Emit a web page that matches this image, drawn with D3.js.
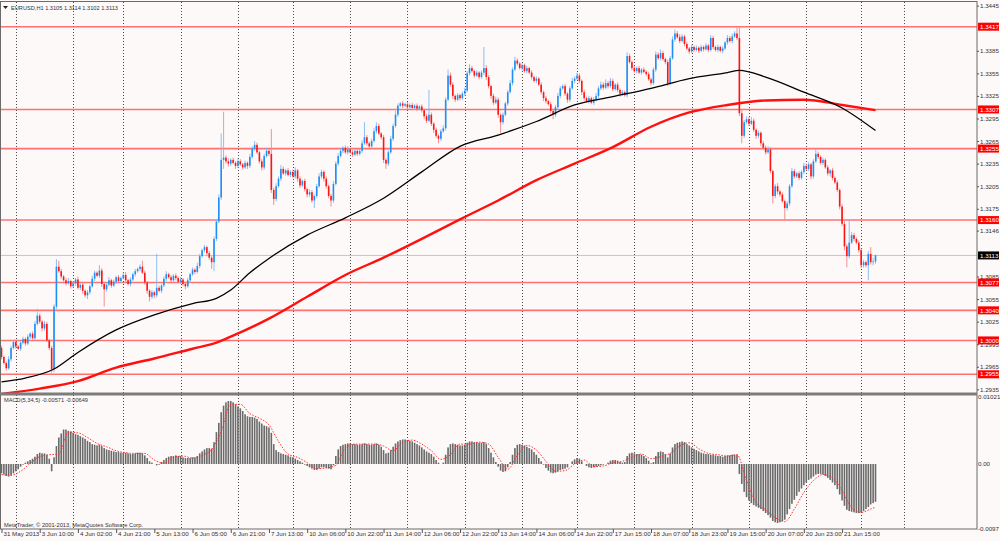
<!DOCTYPE html>
<html>
<head>
<meta charset="utf-8">
<script src="https://cdnjs.cloudflare.com/ajax/libs/d3/7.8.5/d3.min.js"></script>
<style>
  body { margin: 0; background: #fdf9f8; overflow: hidden; }
  text { font-family: "Liberation Sans", Arial, sans-serif; font-size: 6.2px; fill: #333; }
</style>
</head>
<body>
<svg id="chart"></svg>
<script>
// EURUSD H1, prices in 1/10000 (13113 = 1.3113), open of each bar = previous close
const firstOpen = 12990;
const closes = [
  12978,12970,12963,12975,12990,12998,12992,12989,12997,13002,
  12996,13005,13009,13003,13022,13033,13025,13016,13022,13000,
  12990,12962,13045,13098,13092,13085,13080,13076,13079,13072,
  13076,13081,13070,13074,13066,13060,13064,13072,13082,13090,
  13086,13093,13075,13068,13074,13080,13073,13078,13084,13079,
  13083,13087,13080,13075,13081,13088,13092,13095,13098,13090,
  13077,13066,13058,13064,13060,13070,13066,13073,13082,13088,
  13084,13080,13086,13083,13078,13081,13075,13072,13080,13088,
  13094,13091,13099,13112,13120,13124,13116,13110,13104,13135,
  13158,13190,13240,13243,13238,13235,13240,13236,13232,13238,
  13234,13230,13236,13232,13244,13255,13260,13250,13238,13230,
  13245,13252,13248,13200,13188,13205,13215,13228,13222,13226,
  13220,13224,13218,13226,13215,13206,13212,13201,13194,13197,
  13186,13192,13205,13218,13224,13215,13205,13192,13186,13208,
  13235,13245,13252,13256,13250,13254,13250,13247,13252,13248,
  13252,13262,13270,13262,13258,13265,13278,13285,13275,13270,
  13240,13235,13250,13268,13285,13300,13312,13315,13312,13314,
  13310,13313,13309,13312,13308,13311,13306,13298,13292,13300,
  13288,13280,13272,13268,13278,13282,13320,13352,13340,13325,
  13320,13326,13322,13328,13332,13355,13362,13358,13352,13356,
  13350,13356,13362,13350,13338,13325,13316,13320,13300,13290,
  13300,13315,13330,13342,13360,13372,13368,13362,13366,13358,
  13362,13356,13350,13345,13348,13340,13330,13322,13318,13314,
  13305,13300,13310,13325,13335,13338,13328,13320,13335,13345,
  13348,13352,13345,13330,13322,13318,13322,13316,13320,13325,
  13335,13340,13336,13342,13338,13345,13334,13340,13333,13328,
  13330,13326,13378,13370,13362,13358,13362,13356,13360,13357,
  13354,13347,13342,13360,13380,13375,13382,13374,13370,13342,
  13375,13400,13408,13403,13398,13404,13394,13388,13384,13390,
  13386,13389,13385,13390,13387,13392,13386,13402,13390,13386,
  13390,13385,13388,13396,13402,13398,13404,13408,13402,13302,
  13272,13290,13294,13288,13292,13280,13272,13276,13262,13256,
  13250,13254,13225,13192,13205,13198,13194,13185,13176,13182,
  13205,13225,13218,13222,13216,13224,13232,13228,13234,13218,
  13238,13248,13244,13236,13240,13230,13222,13226,13216,13210,
  13200,13178,13155,13125,13112,13130,13140,13135,13130,13120,
  13100,13104,13100,13115,13104,13105,13113
];
// wick length above / below the body, in pips
const wickUp = [
  3,2,2,4,3,2,3,2,2,3, 2,3,2,3,4,9,3,2,4,3, 2,3,3,10,8,3,2,3,4,2, 3,2,4,2,3,2,3,2,4,3,
  2,7,3,2,3,4,2,3,2,3, 2,3,4,2,3,2,3,2,3,8, 3,2,2,3,2,45,3,2,3,4, 2,3,2,3,2,3,2,3,3,2,
  3,2,4,3,2,3,2,3,2,3, 3,4,35,61,3,4,2,3,2,4, 3,2,3,2,4,3,5,3,2,3, 3,4,3,33,3,4,3,5,3,2,
  3,2,3,4,2,3,2,3,2,4, 3,2,3,4,3,2,3,2,3,4, 3,4,3,2,3,4,2,3,2,3, 3,4,20,3,2,3,4,5,3,2,
  3,2,3,4,3,5,3,2,3,2, 3,2,3,2,3,2,3,2,3,33, 3,2,3,2,3,4,3,8,4,3, 2,3,2,3,4,3,5,3,2,3,
  2,3,28,4,3,2,3,4,3,2, 3,2,3,4,3,5,3,2,3,2, 3,2,3,2,3,2,3,2,3,2, 3,2,3,4,3,2,3,2,3,4,
  3,4,3,2,3,2,3,2,3,4, 3,4,3,5,3,4,3,2,3,2, 3,2,5,3,2,3,2,3,2,3, 2,3,2,3,4,3,5,3,2,3,
  3,4,5,3,4,3,2,3,2,3, 2,3,2,3,2,3,2,4,3,2, 3,2,3,2,4,3,4,3,8,14, 4,3,4,3,5,3,2,3,2,3,
  3,4,3,2,3,4,2,3,2,3, 3,4,3,2,3,2,4,3,3,2, 3,7,3,2,3,2,3,2,3,2, 3,2,3,4,3,30,4,3,2,3,
  2,3,2,4,9,5,1
];
const wickDn = [
  3,2,3,2,3,2,3,2,3,2, 3,2,3,2,3,2,3,4,3,2, 3,5,4,3,2,3,2,3,2,3, 2,3,2,3,4,3,5,3,2,3,
  2,3,4,23,3,2,3,2,3,2, 3,2,3,2,3,2,3,2,3,2, 3,4,6,3,4,3,2,3,2,3, 2,3,2,3,2,3,3,4,2,3,
  2,3,2,3,2,3,4,3,9,12, 3,2,3,12,3,4,3,2,4,3, 2,3,2,4,3,2,3,2,3,4, 3,2,3,4,8,3,2,3,2,3,
  2,3,2,3,4,3,2,3,4,3, 3,10,3,2,3,4,3,3,8,3, 2,3,2,3,2,3,2,3,2,3, 2,3,2,3,4,3,2,3,2,3,
  4,7,3,2,3,2,3,2,3,2, 3,2,3,2,3,2,3,4,3,2, 3,4,3,6,3,2,3,2,3,4, 3,2,3,2,3,2,3,2,3,2,
  3,2,3,4,3,4,3,2,4,14, 3,2,3,2,3,2,3,2,3,2, 3,2,3,2,3,2,3,4,3,2, 3,6,3,2,3,2,3,4,3,2,
  3,2,3,4,3,2,3,2,3,2, 3,2,3,2,3,2,3,2,3,4, 3,2,3,2,3,2,3,2,3,2, 3,2,3,2,3,2,3,2,3,4,
  3,2,3,2,3,2,3,2,3,2, 3,2,3,2,3,2,3,2,3,2, 3,2,3,2,3,2,3,2,3,4, 10,3,2,3,2,3,4,3,4,3,
  3,2,3,10,3,4,3,2,16,3, 3,2,3,2,3,2,3,2,3,4, 3,2,3,2,3,2,3,4,3,2, 3,4,3,5,15,3,2,3,2,3,
  4,3,3,20,3,4,3
];

// moving averages: [bar, price]
const maBlack = [[0,12945],[10,12950],[22,12962],[32,12984],[48,13014],[64,13034],[80,13049],[90,13056],
  [96,13067],[104,13090],[112,13109],[128,13140],[144,13163],[160,13189],[176,13224],[192,13258],[208,13273],
  [224,13291],[240,13313],[256,13324],[272,13335],[288,13348],[304,13356],[309,13359],[320,13350],
  [336,13330],[352,13309],[366,13279]];
const maRed = [[0,12929],[16,12936],[32,12946],[48,12964],[64,12976],[80,12989],[90,12997],[96,13005],
  [112,13029],[128,13058],[144,13087],[160,13110],[176,13135],[192,13161],[208,13186],[224,13213],
  [240,13235],[256,13257],[272,13284],[288,13303],[304,13313],[320,13319],[336,13320],[352,13313],[366,13306]];

// MACD(5,34,5) main histogram per bar, in 1/10000
const macdMain = [
  -14,-16,-18,-19,-17,-14,-11,-8,-4,-1, 2,4,6,8,11,15,17,16,16,14, 8,-11,10,27,40,46,52,52,50,49,
  47,45,44,42,40,38,35,33,30,29, 28,29,27,24,22,21,20,19,18,18, 17,17,17,16,15,15,16,17,17,16,
  13,9,4,2,0,-2,-1,3,6,9, 11,12,12,13,12,12,10,9,9,9, 10,10,12,16,19,22,24,24,23,33,
  48,62,78,88,93,95,95,93,90,87, 84,80,75,72,71,71,70,68,64,61, 58,57,55,47,30,21,18,16,15,14,
  13,11,10,8,6,4,2,-1,-3,-5, -7,-9,-9,-7,-5,-5,-6,-7,-8,-2, 12,22,27,29,30,31,31,30,30,29,
  29,30,31,30,29,29,30,31,29,26, 21,16,17,21,26,31,34,36,37,37, 36,35,34,32,30,28,25,22,19,17,
  15,11,6,2,0,2,14,25,30,31, 30,29,28,28,29,32,34,34,33,33, 32,32,33,30,24,17,10,3,-4,-10,
  -12,-11,-5,3,14,24,29,30,29,28, 26,24,22,18,14,9,4,-1,-6,-10, -13,-14,-13,-11,-9,-8,-7,-5,0,4,
  7,9,8,4,0,-3,-5,-6,-5,-4, -3,-2,-1,0,2,5,6,6,5,3, 2,3,12,16,17,16,15,15,14,12,
  9,5,1,3,12,18,19,18,15,10, 16,25,30,32,33,34,33,30,28,25, 23,21,19,17,16,15,15,14,14,13,
  12,12,11,12,13,13,14,14,14,-15, -30,-42,-50,-55,-59,-62,-64,-66,-68,-71, -74,-77,-81,-86,-88,-89,-88,-86,-84,-76,
  -68,-60,-54,-48,-42,-37,-32,-28,-24,-22, -19,-16,-15,-15,-16,-18,-21,-24,-28,-32, -38,-46,-55,-63,-69,-71,-72,-73,-74,-74,
  -73,-71,-68,-65,-61,-59,-57
];
// signal line, read every 4th bar (last point is the final bar)
const signalVals = [
  -16,-17,-11,1,11,14,15,48,47,40,31,26,20,17,16,16,6,1,10,12,9,13,22,49,90,90,76,69,59,34,
  15,10,2,-7,-6,-2,24,30,30,30,27,20,33,36,30,20,7,14,30,30,33,30,10,-8,13,28,21,4,-11,-10,
  0,6,-4,-3,2,4,10,15,8,11,16,27,32,23,16,14,12,14,-25,-58,-69,-81,-87,-68,-43,-25,-16,-21,
  -40,-66,-73,-68,-65
];

const levels = [13417, 13307, 13255, 13160, 13077, 13040, 13000, 12955];
const bidPrice = 13113;
const priceTicks = [12935, 12965, 12995, 13025, 13055, 13085, 13146, 13175, 13205, 13235,
  13265, 13295, 13325, 13355, 13385, 13445];
const macdTicks = [0.01021, 0, -0.0097];
const macdTickLabels = ['0.01021', '0.00', '-0.0097'];
const timeLabels = ['31 May 2013', '3 Jun 10:00', '4 Jun 02:00', '4 Jun 21:00', '5 Jun 13:00',
  '6 Jun 05:00', '6 Jun 21:00', '7 Jun 13:00', '10 Jun 06:00', '10 Jun 22:00', '11 Jun 14:00',
  '12 Jun 06:00', '12 Jun 22:00', '13 Jun 14:00', '14 Jun 06:00', '14 Jun 22:00', '17 Jun 15:00',
  '18 Jun 07:00', '18 Jun 23:00', '19 Jun 15:00', '20 Jun 07:00', '20 Jun 23:00', '21 Jun 15:00'];
const dayBreaks = [6, 30, 51, 75, 99, 122, 146, 170, 194, 218, 241, 265, 289, 313, 337, 360, 378];

const width = 1000, height = 541;
const plotRight = 977;
const mainTop = 2, mainBottom = 393;
const subTop = 395, subBottom = 529;
const pip = v => v / 10000;

const bars = closes.map((c, i) => {
  const o = i === 0 ? firstOpen : closes[i - 1];
  return {
    i: i, o: pip(o), c: pip(c),
    h: pip(Math.max(o, c) + wickUp[i]),
    l: pip(Math.min(o, c) - wickDn[i])
  };
});

const x = d3.scaleLinear().domain([0, closes.length - 1]).range([1.5, 875.5]);
const y = d3.scaleLinear().domain([1.2955, 1.3417]).range([374.3, 26.7]);
const ym = d3.scaleLinear().domain([-0.0097, 0.01021]).range([528.3, 396.3]);

const svg = d3.select('#chart')
  .attr('width', width)
  .attr('height', height)
  .attr('viewBox', [0, 0, width, height].join(' '));

svg.append('rect').attr('width', width).attr('height', height).attr('fill', '#fdf9f8');

const defs = svg.append('defs');
defs.append('clipPath').attr('id', 'clip-main')
  .append('rect').attr('x', 0).attr('y', mainTop).attr('width', plotRight).attr('height', mainBottom - mainTop);
defs.append('clipPath').attr('id', 'clip-sub')
  .append('rect').attr('x', 0).attr('y', subTop).attr('width', plotRight).attr('height', subBottom - subTop);

// vertical day grid, through both panels
svg.append('g')
  .selectAll('line')
  .data(dayBreaks)
  .join('line')
  .attr('x1', d => Math.round(x(d)) + 0.5)
  .attr('x2', d => Math.round(x(d)) + 0.5)
  .attr('y1', mainTop)
  .attr('y2', subBottom)
  .attr('stroke', '#4a4a4a')
  .attr('stroke-width', 1)
  .attr('stroke-dasharray', '1,2');

const main = svg.append('g').attr('clip-path', 'url(#clip-main)');

// horizontal levels
main.append('g')
  .selectAll('line')
  .data(levels)
  .join('line')
  .attr('x1', 0)
  .attr('x2', plotRight)
  .attr('y1', d => y(pip(d)))
  .attr('y2', d => y(pip(d)))
  .attr('stroke', '#ff5a5a')
  .attr('stroke-opacity', 0.85)
  .attr('stroke-width', 1.6);

main.append('line')
  .attr('x1', 0).attr('x2', plotRight)
  .attr('y1', y(pip(bidPrice))).attr('y2', y(pip(bidPrice)))
  .attr('stroke', '#c4c4c4').attr('stroke-width', 1);

// candles
const candles = main.append('g');
candles.selectAll('line')
  .data(bars)
  .join('line')
  .attr('x1', d => x(d.i))
  .attr('x2', d => x(d.i))
  .attr('y1', d => y(d.h))
  .attr('y2', d => y(d.l))
  .attr('stroke', d => d.c >= d.o ? '#7fb8f2' : '#f28585')
  .attr('stroke-width', 0.9);

candles.selectAll('rect')
  .data(bars)
  .join('rect')
  .attr('x', d => x(d.i) - 0.8)
  .attr('width', 1.6)
  .attr('y', d => y(Math.max(d.o, d.c)))
  .attr('height', d => Math.max(0.8, Math.abs(y(d.o) - y(d.c))))
  .attr('fill', d => d.c >= d.o ? '#1e8ff5' : '#ff1414');

// moving averages
const maLine = d3.line()
  .x(d => x(d[0]))
  .y(d => y(pip(d[1])))
  .curve(d3.curveMonotoneX);

main.append('path')
  .datum(maRed)
  .attr('d', maLine)
  .attr('fill', 'none')
  .attr('stroke', '#ff1010')
  .attr('stroke-width', 2.4);

main.append('path')
  .datum(maBlack)
  .attr('d', maLine)
  .attr('fill', 'none')
  .attr('stroke', '#000')
  .attr('stroke-width', 1.3);

// MACD panel
const sub = svg.append('g').attr('clip-path', 'url(#clip-sub)');

sub.append('g')
  .selectAll('rect')
  .data(macdMain)
  .join('rect')
  .attr('x', (d, i) => x(i) - 0.8)
  .attr('width', 1.6)
  .attr('y', d => Math.min(ym(0), ym(pip(d))))
  .attr('height', d => Math.abs(ym(pip(d)) - ym(0)))
  .attr('fill', '#6a6a6a');

const signalBars = d3.range(0, closes.length - 2, 4).concat([closes.length - 1]);
sub.append('path')
  .datum(signalVals.map((v, k) => [signalBars[k], v]))
  .attr('d', d3.line().x(d => x(d[0])).y(d => ym(pip(d[1]))).curve(d3.curveMonotoneX))
  .attr('fill', 'none')
  .attr('stroke', '#ff3030')
  .attr('stroke-width', 1)
  .attr('stroke-dasharray', '1.5,1.5');

// frames
const frame = svg.append('g').attr('fill', 'none');
frame.append('rect')
  .attr('x', 0.5).attr('y', 1.5)
  .attr('width', plotRight - 0.5).attr('height', subBottom - 1.5)
  .attr('stroke', '#6a6a6a').attr('stroke-width', 1);
frame.append('line')
  .attr('x1', 0).attr('x2', plotRight)
  .attr('y1', 394).attr('y2', 394)
  .attr('stroke', '#7c7c7c').attr('stroke-width', 3);

// price axis
const priceAxis = d3.axisRight(y)
  .tickValues(priceTicks.map(pip))
  .tickFormat(d3.format('.4f'))
  .tickSize(2)
  .tickSizeOuter(0)
  .tickPadding(1);

svg.append('g')
  .attr('transform', `translate(${plotRight},0)`)
  .call(priceAxis)
  .call(g => g.select('.domain').remove())
  .call(g => g.selectAll('line').attr('stroke', '#555'))
  .call(g => g.selectAll('text').style('font-size', '6.2px').attr('fill', '#333'));

// level labels
const tags = svg.append('g');
const tagData = levels.map(v => ({ v: v, bg: '#ff0000' })).concat([{ v: bidPrice, bg: '#000' }]);
tags.selectAll('rect')
  .data(tagData)
  .join('rect')
  .attr('x', plotRight + 1)
  .attr('y', d => y(pip(d.v)) - 4)
  .attr('width', width - plotRight - 2)
  .attr('height', 8)
  .attr('fill', d => d.bg);
tags.selectAll('text')
  .data(tagData)
  .join('text')
  .attr('x', plotRight + 3)
  .attr('y', d => y(pip(d.v)))
  .attr('dy', '0.35em')
  .style('fill', '#fff')
  .text(d => d3.format('.4f')(pip(d.v)));

// MACD axis
svg.append('g')
  .attr('transform', `translate(${plotRight},0)`)
  .call(d3.axisRight(ym)
    .tickValues(macdTicks)
    .tickFormat((d, i) => macdTickLabels[i])
    .tickSize(0)
    .tickPadding(1))
  .call(g => g.select('.domain').remove())
  .call(g => g.selectAll('text').style('font-size', '6.2px').attr('fill', '#333'));

// time axis
const timeAxis = d3.axisBottom(x)
  .tickValues(d3.range(0, timeLabels.length * 16, 16))
  .tickFormat((d, i) => timeLabels[i])
  .tickSize(4)
  .tickSizeOuter(0);

svg.append('g')
  .attr('transform', `translate(0,${subBottom})`)
  .call(timeAxis)
  .call(g => g.select('.domain').remove())
  .call(g => g.selectAll('line').attr('stroke', '#555'))
  .call(g => g.selectAll('text')
    .attr('text-anchor', 'start')
    .attr('x', 1.5)
    .attr('y', 3)
    .style('font-size', '6.2px')
    .attr('fill', '#333'));

// captions
svg.append('path')
  .attr('d', 'M3,6 L8,6 L5.5,9 Z')
  .attr('fill', '#222');
svg.append('text')
  .attr('x', 11).attr('y', 10)
  .attr('textLength', 107).attr('lengthAdjust', 'spacingAndGlyphs')
  .text('EURUSD,H1  1.3105 1.3114 1.3102 1.3113');
svg.append('text')
  .attr('x', 4).attr('y', 402)
  .attr('textLength', 84).attr('lengthAdjust', 'spacingAndGlyphs')
  .text('MACD(5,34,5) -0.00571 -0.00649');
svg.append('text')
  .attr('x', 4).attr('y', 527)
  .attr('textLength', 139).attr('lengthAdjust', 'spacingAndGlyphs')
  .text('MetaTrader, \u00a9 2001-2013, MetaQuotes Software Corp.');
</script>
</body>
</html>
